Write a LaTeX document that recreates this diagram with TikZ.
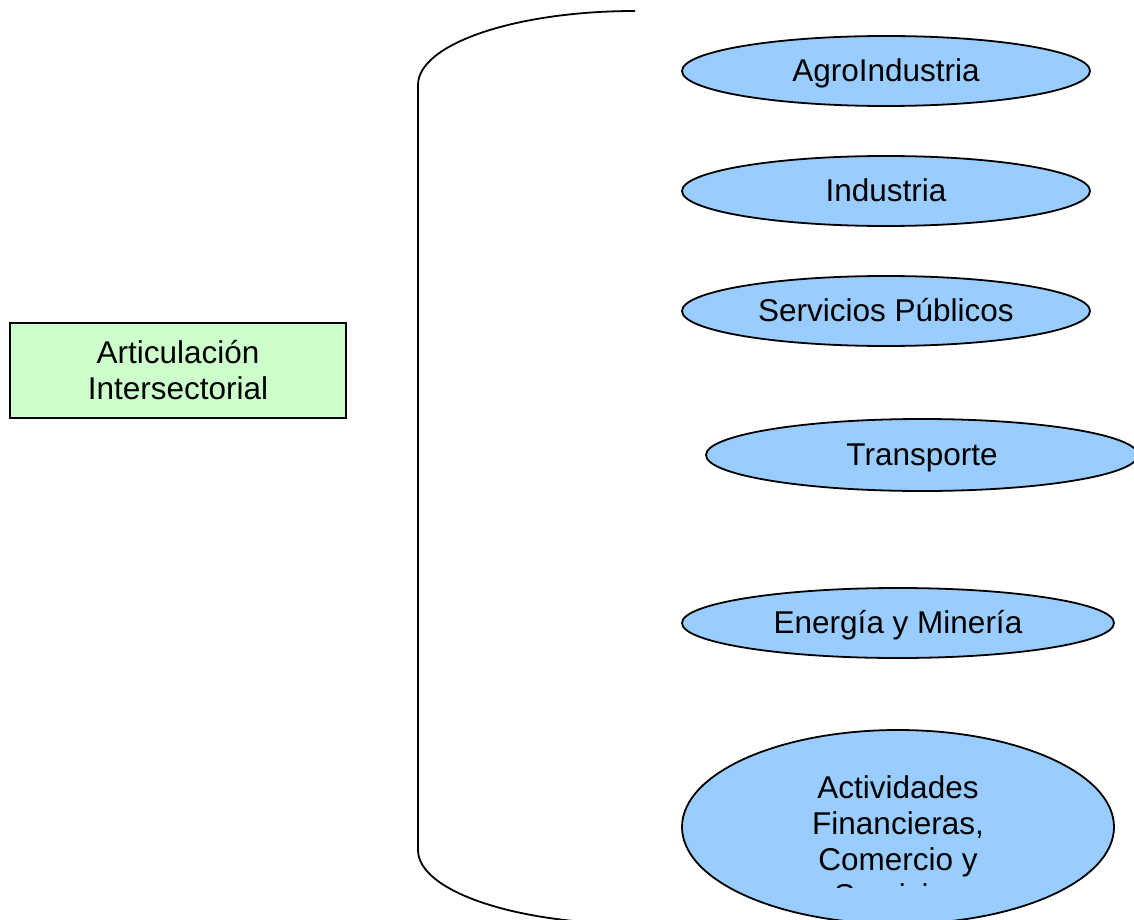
\documentclass[tikz,border=0pt]{standalone}
\usepackage{fontspec}
\setmainfont{Liberation Sans}
\usetikzlibrary{shapes.geometric}
\definecolor{boxgreen}{HTML}{CCFFCC}
\definecolor{sectorblue}{HTML}{99CCFF}
\tikzset{
  sector/.style={ellipse, draw=black, line width=1.8pt, fill=sectorblue,
    inner sep=0pt, minimum width=408pt, minimum height=70pt,
    text height=28.5pt, text depth=6.7pt},
  mainbox/.style={rectangle, draw=black, line width=1.8pt, fill=boxgreen,
    inner sep=0pt, minimum width=336pt, minimum height=95pt, align=center},
  lbl/.style={font=\fontsize{31.5}{36}\selectfont}
}
\begin{document}
\begin{tikzpicture}[x=1pt,y=-1pt,lbl]
\useasboundingbox (0,0) rectangle (1134,920);
\clip (0,0) rectangle (1134,920);

% left label
\node[mainbox] (art) at (178,370.5) {Articulación\\Intersectorial};

% grouping bracket
\coordinate (bt) at (635,11);
\coordinate (bb) at (418,850);
\draw[line width=1.8pt] (bt) arc[start angle=270, end angle=180, x radius=217, y radius=74]
  -- (bb) arc[start angle=180, end angle=90, x radius=217, y radius=74];

% sectors
\node[sector] (agro) at (886,71) {AgroIndustria};
\node[sector] (ind) at (886,191) {Industria};
\node[sector] (serv) at (886,311) {Servicios Públicos};
\node[sector, minimum width=432pt, minimum height=72pt] (trans) at (922,455) {Transporte};
\node[sector, minimum width=432pt] (ener) at (898,623) {Energía y Minería};
\node[sector, minimum width=432pt, minimum height=194pt] (act) at (898,827) {};
% the text frame of the last sector cuts off its fourth line
\begin{scope}
  \clip (600,700) rectangle (1134,887);
  \node[anchor=base, align=center, inner sep=0pt] (acttext) at (898,906)
    {Actividades\\Financieras,\\Comercio y\\Servicios};
\end{scope}
\end{tikzpicture}
\end{document}
